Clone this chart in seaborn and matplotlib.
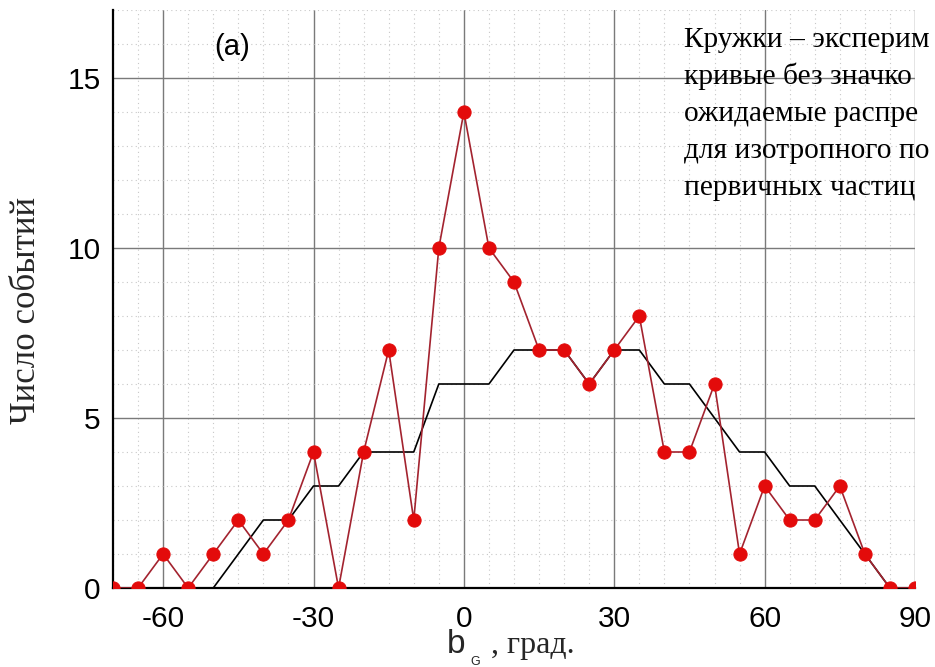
import matplotlib
matplotlib.use("Agg")
import matplotlib.pyplot as plt
from matplotlib.ticker import MultipleLocator
import numpy as np
import pandas as pd
import seaborn as sns

# Galactic latitude of the bins, degrees
angles = [-70, -65, -60, -55, -50, -45, -40, -35, -30, -25, -20, -15, -10, -5,
          0, 5, 10, 15, 20, 25, 30, 35, 40, 45, 50, 55, 60, 65, 70, 75, 80, 85, 90]
# Observed number of events (circles)
observed = [0, 0, 1, 0, 1, 2, 1, 2, 4, 0, 4, 7, 2, 10,
            14, 10, 9, 7, 7, 6, 7, 8, 4, 4, 6, 1, 3, 2, 2, 3, 1, 0, 0]
# Expected distribution for an isotropic flux of primaries (plain curve)
expected = [0, 0, 0, 0, 0, 1, 2, 2, 3, 3, 4, 4, 4, 6,
            6, 6, 7, 7, 7, 6, 7, 7, 6, 6, 5, 4, 4, 3, 3, 2, 1, 0, 0]

x_ticks = [-60, -30, 0, 30, 60, 90]
y_ticks = [0, 5, 10, 15]

# Note in the upper right corner, running up to the right edge of the sheet
note_lines = [
    "Кружки – эксперим",
    "кривые без значко",
    "ожидаемые распре",
    "для изотропного по",
    "первичных частиц",
]

df = pd.DataFrame({"b": angles, "observed": observed, "expected": expected})

sns.set_style("white")
plt.rcParams["font.family"] = ["Liberation Sans", "DejaVu Sans"]

W, H = 935, 667
fig = plt.figure(figsize=(W / 100, H / 100), dpi=100)
ax = fig.add_axes([113 / W, 1 - 588 / H, (915 - 113) / W, (588 - 10) / H])

sns.lineplot(data=df, x="b", y="expected", color="black", lw=1.2, ax=ax, zorder=3)
sns.lineplot(data=df, x="b", y="observed", color="#a3232f", lw=1.2,
             marker="o", markersize=9.5, markerfacecolor="#e30b0b",
             markeredgecolor="#e30b0b", ax=ax, zorder=4)

ax.set_xlim(-70, 90)
ax.set_ylim(0, 17)
ax.set_xticks(x_ticks)
ax.set_yticks(y_ticks)
ax.set_xticklabels([str(v) for v in x_ticks])
ax.set_yticklabels([str(v) for v in y_ticks])
ax.xaxis.set_minor_locator(MultipleLocator(5))
ax.yaxis.set_minor_locator(MultipleLocator(1))

ax.grid(which="major", color="#7a7a7a", lw=1.0, zorder=1)
ax.grid(which="minor", color="#c8c8c8", lw=0.8, ls=(0, (1, 3)), zorder=0)
ax.set_axisbelow(True)

for side in ("top", "right"):
    ax.spines[side].set_visible(False)
for side in ("left", "bottom"):
    ax.spines[side].set_color("black")
    ax.spines[side].set_linewidth(1.6)

ax.tick_params(axis="both", which="both", direction="in", colors="black")
ax.tick_params(axis="y", which="major", length=8.5, width=1.3, pad=9, labelsize=21.5)
ax.tick_params(axis="y", which="minor", length=4.5, width=1.0)
ax.tick_params(axis="x", which="major", length=4, width=1.0, pad=12, labelsize=21.5)
ax.tick_params(axis="x", which="minor", length=4, width=1.0)
ax.set_xlabel("")
ax.set_ylabel("")

ax.text(232 / W, 1 - 47 / H, "(a)", transform=fig.transFigure, ha="center",
        va="center", fontsize=21, color="black")

serif = ["Liberation Serif", "DejaVu Serif"]
fig.text(27 / W, 1 - 310 / H, "Число событий", rotation=90, ha="center",
         va="center", family=serif, fontsize=25)

fig.text(447 / W, 1 - 653 / H, "b", ha="left", va="baseline", fontsize=24)
fig.text(470 / W, 1 - 665 / H, "G", ha="left", va="baseline", fontsize=9)
fig.text(491 / W, 1 - 653 / H, ", град.", ha="left", va="baseline",
         family=serif, fontsize=23)

for i, line in enumerate(note_lines):
    fig.text(684 / W, 1 - (47 + 37 * i) / H, line, ha="left", va="baseline",
             family=serif, fontsize=21.2, color="black")

fig.savefig("out.png", dpi=100)
